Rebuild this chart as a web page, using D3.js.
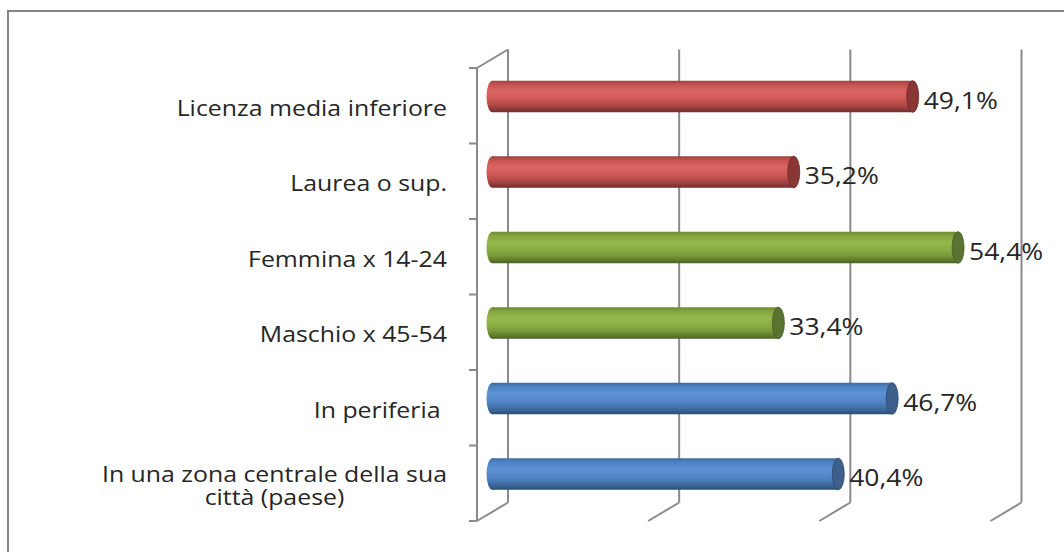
<!DOCTYPE html>
<html>
<head>
<meta charset="utf-8">
<script src="https://cdn.jsdelivr.net/npm/d3@7"></script>
<style>
  html, body { margin: 0; padding: 0; background: #ffffff; }
  svg { display: block; }
  text { white-space: pre; }
</style>
</head>
<body>
<svg id="chart" width="1064" height="552"></svg>
<script>
// ---- data ----
const categories = [
  "Licenza media inferiore",
  "Laurea o sup.",
  "Femmina x 14-24",
  "Maschio x 45-54",
  "In periferia ",
  "In una zona centrale della sua\ncittà (paese)"
];
const values = [49.1, 35.2, 54.4, 33.4, 46.7, 40.4];
const groups = ["red", "red", "green", "green", "blue", "blue"];
const gridValues = [0, 20, 40, 60];
const valueLabels = ["49,1%", "35,2%", "54,4%", "33,4%", "46,7%", "40,4%"];

// ---- layout ----
const svg = d3.select("#chart");
const W = 1064, H = 552;
const front = { left: 477, top: 68, bottom: 521 };
const depth = { dx: 31, dy: -18.5 };
const x = d3.scaleLinear().domain([0, 60]).range([0, 513.5]);
const y = d3.scaleBand().domain(categories).range([front.top, front.bottom]).paddingInner(0.58).paddingOuter(0.29);
const rx = 6;

const palettes = {
  red:   { stops: ["#9c403d", "#c95552", "#da6461", "#d05b58", "#b54a47", "#8e3a38", "#6e2c2a"], cap: "#8a3634", capEdge: "#6e2a28" },
  green: { stops: ["#6c8a30", "#86a640", "#95b84b", "#8caf45", "#7a9a3a", "#5f7a2c", "#4a6022"], cap: "#5b7330", capEdge: "#465a24" },
  blue:  { stops: ["#3f6ca3", "#4f84c4", "#5c93d4", "#5389cb", "#4676b0", "#37608f", "#2b4b72"], cap: "#3d5f8c", capEdge: "#2f4a6e" }
};
const stopOffsets = [0, 0.14, 0.35, 0.55, 0.75, 0.9, 1];

// background
svg.append("rect").attr("width", W).attr("height", H).attr("fill", "#ffffff");
// outer frame
svg.append("rect").attr("x", 8).attr("y", 11).attr("width", W + 20).attr("height", H + 20)
  .attr("fill", "none").attr("stroke", "#868686").attr("stroke-width", 2);

const defs = svg.append("defs");
Object.entries(palettes).forEach(([k, p]) => {
  const g = defs.append("linearGradient").attr("id", "grad-" + k)
    .attr("x1", 0).attr("y1", 0).attr("x2", 0).attr("y2", 1);
  p.stops.forEach((c, i) => g.append("stop").attr("offset", stopOffsets[i]).attr("stop-color", c));
});

const gridColor = "#8a8a8a";
const grid = svg.append("g").attr("stroke", gridColor).attr("stroke-width", 2).attr("fill", "none");
// back wall vertical gridlines + floor diagonals
gridValues.forEach(v => {
  const bx = front.left + depth.dx + x(v);
  grid.append("line").attr("x1", bx).attr("x2", bx)
    .attr("y1", front.top + depth.dy).attr("y2", front.bottom + depth.dy);
  grid.append("line").attr("x1", bx).attr("y1", front.bottom + depth.dy)
    .attr("x2", front.left + x(v)).attr("y2", front.bottom);
});
// side wall top diagonal
grid.append("line").attr("x1", front.left).attr("y1", front.top)
  .attr("x2", front.left + depth.dx).attr("y2", front.top + depth.dy);
// front category axis
grid.append("line").attr("x1", front.left).attr("x2", front.left)
  .attr("y1", front.top).attr("y2", front.bottom);
const boundaries = categories.map(c => y(c) - y.step() * y.paddingInner() / 2);
boundaries.push(front.bottom);
boundaries[0] = front.top;
boundaries.forEach(b => {
  grid.append("line").attr("x1", front.left - 8).attr("x2", front.left)
    .attr("y1", b).attr("y2", b);
});

// bars (cylinders)
const bars = svg.append("g");
const vsx = 1.15;
categories.forEach((c, i) => {
  const p = palettes[groups[i]];
  const cy = y(c) + y.bandwidth() / 2 + depth.dy / 2;
  const ry = y.bandwidth() / 2;
  const x0 = front.left + depth.dx / 2 + x(0);
  const x1 = front.left + depth.dx / 2 + x(values[i]);
  const path = d3.path();
  path.moveTo(x0, cy - ry);
  path.lineTo(x1, cy - ry);
  path.lineTo(x1, cy + ry);
  path.lineTo(x0, cy + ry);
  path.closePath();
  bars.append("path").attr("d", path.toString()).attr("fill", "url(#grad-" + groups[i] + ")");
  bars.append("ellipse").attr("cx", x0).attr("cy", cy).attr("rx", rx).attr("ry", ry)
    .attr("fill", "url(#grad-" + groups[i] + ")");
  bars.append("ellipse").attr("cx", x1).attr("cy", cy).attr("rx", rx).attr("ry", ry)
    .attr("fill", p.cap).attr("stroke", p.capEdge).attr("stroke-width", 0.8);
  // value label
  svg.append("text")
    .attr("transform", `translate(${x1 + rx + 5},${cy + 4}) scale(${vsx},1)`)
    .attr("dy", "0.36em")
    .attr("font-family", "'Open Sans', sans-serif").attr("font-size", 23)
    .attr("fill", "#262626").text(valueLabels[i]);
});

// category labels
const labelRight = front.left - 30;
const sx = 1.13;
const lineH = 23;
categories.forEach(c => {
  const lines = c.split("\n");
  const cy = y(c) + y.bandwidth() / 2 + 2;
  const g = svg.append("g").attr("font-family", "'Open Sans', sans-serif").attr("font-size", 22).attr("fill", "#262626");
  const texts = lines.map((ln, j) => g.append("text").attr("text-anchor", "middle")
    .attr("dy", "0.36em").text(ln));
  const maxW = d3.max(texts, t => t.node().getComputedTextLength()) * sx;
  const cx = labelRight - maxW / 2;
  texts.forEach((t, j) => {
    const ly = cy + (j - (lines.length - 1) / 2) * lineH;
    t.attr("transform", `translate(${cx},${ly}) scale(${sx},1)`);
  });
});
</script>
</body>
</html>
